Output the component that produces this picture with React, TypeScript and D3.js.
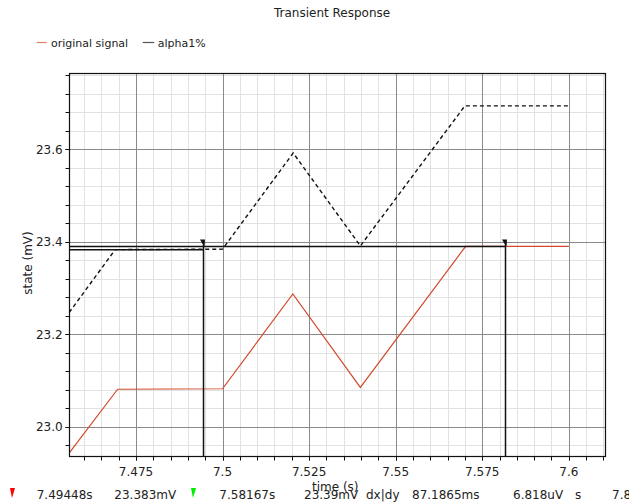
import React from "react";
import * as d3 from "d3";

const redTimes = [7.4557, 7.4697, 7.5, 7.5203, 7.5398, 7.5702, 7.6];
const redValues = [22.943, 23.081, 23.082, 23.287, 23.085, 23.39, 23.39];
const alphaTimes = [7.4557, 7.469, 7.5, 7.5204, 7.5398, 7.57, 7.6];
const alphaValues = [23.247, 23.383, 23.384, 23.592, 23.391, 23.694, 23.694];
const xTicks = [7.475, 7.5, 7.525, 7.55, 7.575, 7.6];
const xTickLabels = ["7.475", "7.5", "7.525", "7.55", "7.575", "7.6"];
const yTicks = [23.0, 23.2, 23.4, 23.6];
const yTickLabels = ["23.0", "23.2", "23.4", "23.6"];
const cursorTimes = [7.49448, 7.58167];
const cursorValues = [23.383, 23.39];
const cursorColors = ["#ff0000", "#00ee00"];
const readoutTexts = ["7.49448s", "23.383mV", "7.58167s", "23.39mV", "dx|dy", "87.1865ms", "6.818uV", "s", "7.8"];
const readoutX = [36.7, 114.3, 219.3, 304, 366, 412, 513, 575, 612];

const W = 629, H = 502;
const L = 69.5, R = 605.5, T = 73.5, B = 456.5;
const FONT = "DejaVu Sans";

export default function App() {
  const x = d3.scaleLinear().domain([7.4558, 7.6106]).range([L, R]);
  const y = d3.scaleLinear().domain([22.9355, 23.764]).range([B, T]);

  const minorX = d3.range(7.46, 7.611, 0.005).filter(v => x(v) > L + 1 && x(v) < R - 1);
  const minorY = d3.range(22.96, 23.77, 0.04).filter(v => y(v) < B - 1 && y(v) > T + 1);

  const line = d3.line<[number, number]>().x(d => x(d[0])).y(d => y(d[1]));
  const redPts = redTimes.map((t, i) => [t, redValues[i]] as [number, number]);
  const alphaPts = alphaTimes.map((t, i) => [t, alphaValues[i]] as [number, number]);

  return (
    <svg width={W} height={H} style={{ position: "absolute", left: 0, top: 0, background: "#fff" }} fontFamily={FONT}>
      <defs>
        <clipPath id="plotclip">
          <rect x={L} y={T} width={R - L} height={B - T} />
        </clipPath>
      </defs>
      <rect x={0} y={0} width={W} height={H} fill="#fff" />
      <text x={274} y={17} fontSize={12} fill="#222">Transient Response</text>
      {/* legend */}
      <line x1={36.7} x2={46.7} y1={42.5} y2={42.5} stroke="#e0806a" strokeWidth={1.2} />
      <text x={51} y={46.5} fontSize={11} fill="#222">original signal</text>
      <line x1={142.7} x2={154.3} y1={42.5} y2={42.5} stroke="#555" strokeWidth={1.2} />
      <text x={157.7} y={46.5} fontSize={11} fill="#222">alpha1%</text>

      {/* minor grid */}
      {minorX.map((v, i) => (
        <line key={"mx" + i} x1={Math.round(x(v)) + 0.5} x2={Math.round(x(v)) + 0.5} y1={T} y2={B} stroke="#e2e2e2" strokeWidth={1} />
      ))}
      {minorY.map((v, i) => (
        <line key={"my" + i} y1={Math.round(y(v)) + 0.5} y2={Math.round(y(v)) + 0.5} x1={L} x2={R} stroke="#e2e2e2" strokeWidth={1} />
      ))}
      {/* major grid */}
      {xTicks.map((v, i) => (
        <line key={"gx" + i} x1={Math.round(x(v)) + 0.5} x2={Math.round(x(v)) + 0.5} y1={T} y2={B} stroke="#8a8a8a" strokeWidth={1} />
      ))}
      {yTicks.map((v, i) => (
        <line key={"gy" + i} y1={Math.round(y(v)) + 0.5} y2={Math.round(y(v)) + 0.5} x1={L} x2={R} stroke="#8a8a8a" strokeWidth={1} />
      ))}

      {/* series */}
      <g clipPath="url(#plotclip)">
        <path d={line(redPts) || ""} fill="none" stroke="#d24a2c" strokeWidth={1.2} />
        <path d={line(alphaPts) || ""} fill="none" stroke="#111" strokeWidth={1.4} strokeDasharray="4,3" />
      </g>

      {/* cursors */}
      {cursorTimes.map((t, i) => {
        const cx = Math.round(x(t)) + 0.5;
        const cy = y(cursorValues[i]);
        return (
          <g key={"c" + i}>
            <line x1={L} x2={cx} y1={cy} y2={cy} stroke="#111" strokeWidth={1.5} />
            <line x1={cx} x2={cx} y1={B} y2={241} stroke="#111" strokeWidth={1.5} />
            <polygon points={`${cx - 3.5},${239.5} ${cx + 1.5},${239.5} ${cx + 1},${246} ${cx - 1.5},${243}`} fill="#111" />
          </g>
        );
      })}

      {/* frame */}
      <rect x={L} y={T} width={R - L} height={B - T} fill="none" stroke="#111" strokeWidth={1.2} />

      {/* ticks */}
      {minorX.concat(xTicks).map((v, i) => (
        <line key={"tx" + i} x1={Math.round(x(v)) + 0.5} x2={Math.round(x(v)) + 0.5} y1={B} y2={B + 4} stroke="#111" strokeWidth={1} />
      ))}
      {minorY.concat(yTicks).map((v, i) => (
        <line key={"ty" + i} y1={Math.round(y(v)) + 0.5} y2={Math.round(y(v)) + 0.5} x1={L - 4} x2={L} stroke="#111" strokeWidth={1} />
      ))}
      {xTicks.map((v, i) => (
        <text key={"xl" + i} x={x(v)} y={476} fontSize={12} textAnchor="middle" fill="#222">{xTickLabels[i]}</text>
      ))}
      {yTicks.map((v, i) => (
        <text key={"yl" + i} x={62.7} y={y(v) + 4.5} fontSize={12} textAnchor="end" fill="#222">{yTickLabels[i]}</text>
      ))}
      <text transform={`translate(32,263) rotate(-90)`} fontSize={12} textAnchor="middle" fill="#222">state (mV)</text>

      {/* readout row */}
      {cursorColors.map((c, i) => {
        const mx = i === 0 ? 10 : 191;
        return <polygon key={"rm" + i} points={`${mx},488 ${mx + 5},488 ${mx + 2},498`} fill={c} />;
      })}
      {readoutTexts.map((s, i) => (
        <text key={"rt" + i} x={readoutX[i]} y={498.5} fontSize={12} fill="#222">{s}</text>
      ))}
      <text x={312} y={491} fontSize={12} fill="#222">time (s)</text>
    </svg>
  );
}
